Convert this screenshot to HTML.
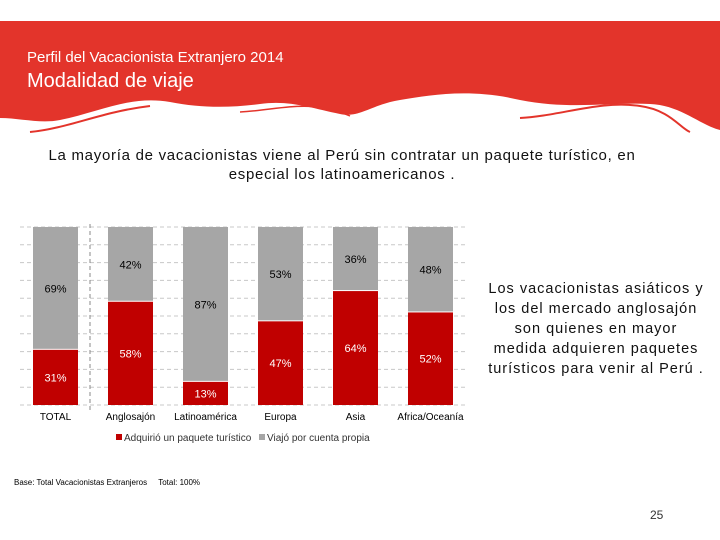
<!DOCTYPE html>
<html><head><meta charset="utf-8"><style>
body{margin:0;width:720px;height:540px;background:#fff;font-family:"Liberation Sans",sans-serif;position:relative;overflow:hidden}
.t{position:absolute;white-space:nowrap}
</style></head><body>
<svg width="720" height="140" style="position:absolute;left:0;top:0">
<path d="M0 21 H720 V130 C700 125 680 105 650 104 C610 102 570 110 520 100 C470 88 430 95 400 100 C370 105 360 118 340 114 C310 108 290 100 260 104 C230 108 200 108 170 102 C130 95 100 112 60 120 C40 124 20 118 0 118 Z" fill="#e3342b"/>
<path d="M30 132 C70 128 100 112 150 106" stroke="#e3342b" stroke-width="2" fill="none"/>
<path d="M240 112 C280 110 310 98 350 116" stroke="#e3342b" stroke-width="1.5" fill="none"/>
<path d="M520 118 C560 116 600 100 640 106 C670 110 680 128 690 132" stroke="#e3342b" stroke-width="2" fill="none"/>
</svg>
<div class="t" style="left:27px;top:49px;font-size:15px;color:#fff">Perfil del Vacacionista Extranjero 2014</div>
<div class="t" style="left:27px;top:70px;font-size:20px;color:#fff">Modalidad de viaje</div>
<div style="position:absolute;left:2px;top:146px;width:680px;text-align:center;font-size:15px;letter-spacing:0.72px;line-height:19px;color:#111">La mayoría de vacacionistas viene al Perú sin contratar un paquete turístico, en<br>especial los latinoamericanos .</div>
<svg id="chart" width="720" height="540" style="position:absolute;left:0;top:0"></svg>
<div style="position:absolute;left:476px;top:279px;width:240px;text-align:center;font-size:14.5px;letter-spacing:1px;line-height:20px;color:#111">Los vacacionistas asiáticos y<br>los del mercado anglosajón<br>son quienes en mayor<br>medida adquieren paquetes<br>turísticos para venir al Perú .</div>
<div class="t" style="left:14px;top:478px;font-size:8px;color:#000">Base: Total Vacacionistas Extranjeros &nbsp;&nbsp;&nbsp;&nbsp;Total: 100%</div>
<div class="t" style="left:650px;top:508px;font-size:12px;color:#333">25</div>
<script>
const categories=["TOTAL","Anglosajón","Latinoamérica","Europa","Asia","Africa/Oceanía"];
const paquete=[31,58,13,47,64,52];
const propia=[69,42,87,53,36,48];
const NS="http://www.w3.org/2000/svg";
const svg=document.getElementById("chart");
const top0=227,bot=405,x0=33,step=75,bw=45;
const y=v=>bot-(bot-top0)*v/100;
function mk(t,a){const e=document.createElementNS(NS,t);for(const k in a)e.setAttribute(k,a[k]);svg.appendChild(e);return e;}
for(let i=0;i<=10;i++){const g=mk("line",{x1:20,x2:467,y1:y(i*10),y2:y(i*10),stroke:"#c8c8c8","stroke-dasharray":"4,3"});

}
const sep=mk("line",{x1:90,x2:90,y1:top0-3,y2:bot+8,stroke:"#888","stroke-dasharray":"4,3"});


categories.forEach((c,i)=>{
 const x=x0+i*step;
 const r=mk("rect",{x:x,y:y(paquete[i]),width:bw,height:bot-y(paquete[i]),fill:"#c00000"});
 
 
 const g=mk("rect",{x:x,y:y(paquete[i]+propia[i]),width:bw,height:y(paquete[i])-y(paquete[i]+propia[i])-1,fill:"#a6a6a6"});
 
 
 const l1=mk("text",{x:x+bw/2,y:(y(paquete[i])+bot)/2+4,"text-anchor":"middle","font-size":11,fill:"#fff"});l1.textContent=paquete[i]+"%";
 
 
 const l2=mk("text",{x:x+bw/2,y:(y(paquete[i])+y(100))/2+4,"text-anchor":"middle","font-size":11,fill:"#000"});l2.textContent=propia[i]+"%";
 
 
 const cl=mk("text",{x:x+bw/2,y:420,"text-anchor":"middle","font-size":10,fill:"#000"});cl.textContent=c;
 
 
});
const lg1=mk("rect",{x:116,y:434,width:6,height:6,fill:"#c00000"});


const lt1=mk("text",{x:124,y:441,"font-size":10,fill:"#333"});lt1.textContent="Adquirió un paquete turístico";


const lg2=mk("rect",{x:259,y:434,width:6,height:6,fill:"#a6a6a6"});


const lt2=mk("text",{x:267,y:441,"font-size":10,fill:"#333"});lt2.textContent="Viajó por cuenta propia";


</script>
</body></html>
